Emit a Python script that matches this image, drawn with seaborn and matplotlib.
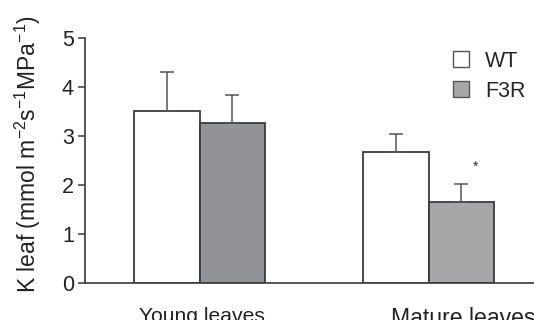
import pandas as pd
import numpy as np
import matplotlib
matplotlib.use("Agg")
import matplotlib.pyplot as plt
import seaborn as sns
from matplotlib.lines import Line2D

sns.set_theme(style="ticks")
plt.rcParams['font.family'] = ['Liberation Sans', 'DejaVu Sans']
plt.rcParams['mathtext.default'] = 'regular'

# Values
grupos = ["Young leaves", "Mature leaves"]
genotipos = ["WT", "F3R"]
wt_media = [3.51, 2.67]
wt_erro = [0.80, 0.37]
f3r_media = [3.27, 1.65]
f3r_erro = [0.57, 0.37]

dados = pd.DataFrame({
    "grupo": grupos * 2,
    "genotipo": ["WT"] * 2 + ["F3R"] * 2,
    "valor": wt_media + f3r_media,
    "erro": wt_erro + f3r_erro,
})

borda = "#3a3a3a"
fig = plt.figure(figsize=(5.34, 3.2), dpi=100)
ax = fig.add_axes([85 / 534, 37 / 320, 458 / 534, 245 / 320])

sns.barplot(data=dados, x="grupo", y="valor", hue="genotipo", order=grupos,
            hue_order=genotipos, palette=["white", "#a6a6a8"], width=0.568,
            edgecolor=borda, linewidth=1.3, errorbar=None, legend=False, ax=ax)

# barras de erro só para cima
barras = sorted([p for p in ax.patches if p.get_height() > 0], key=lambda p: p.get_x())
erros = [wt_erro[0], f3r_erro[0], wt_erro[1], f3r_erro[1]]
for p, e in zip(barras, erros):
    cx = p.get_x() + p.get_width() / 2
    ax.errorbar(cx, p.get_height(), yerr=[[0], [e]], color="#555555",
                capsize=5, elinewidth=1.1, capthick=1.1, zorder=1)
barras[1].set_facecolor("#929396")

# asterisco de significância
ax.text(barras[3].get_x() + barras[3].get_width() * 0.72, 2.38, "*",
        ha="center", va="center", fontsize=10, color="#333333")

ax.set_xlim(-0.5, 1.5)
ax.set_ylim(0, 5)
ax.set_yticks([0, 1, 2, 3, 4, 5])
# rótulo das folhas maduras fica deslocado para a direita na figura original
ax.set_xticks([0.01, 0.835])
ax.set_xticklabels(grupos)
rotulos = ax.get_xticklabels()
rotulos[1].set_horizontalalignment("left")
rotulos[1].set_fontsize(16.6)
ax.set_xlabel("")
ax.set_ylabel("K leaf (mmol m$^{-2}$s$^{-1}$MPa$^{-1}$)", fontsize=16.5, color="#222222")
ax.yaxis.set_label_coords(-0.092, 0.527)
ax.tick_params(axis="y", length=5, width=1.1, color=borda, labelsize=15.5, pad=3, labelcolor="#222222")
ax.tick_params(axis="x", length=0, pad=17, labelcolor="#222222")
rotulos[0].set_fontsize(15.2)
sns.despine(ax=ax)
for s in ["left", "bottom"]:
    ax.spines[s].set_color(borda)
    ax.spines[s].set_linewidth(1.2)

# legenda
alcas = [Line2D([], [], marker="s", linestyle="", markersize=12, markerfacecolor=c,
                markeredgecolor="#555555", markeredgewidth=1) for c in ["white", "#a6a6a8"]]
fig.legend(alcas, genotipos, loc="upper left", bbox_to_anchor=(439 / 534, 1 - 42 / 320),
           frameon=False, fontsize=15.5, handletextpad=0.55, labelspacing=0.42,
           borderaxespad=0, handlelength=1.2)

plt.savefig("out.png", dpi=100)
